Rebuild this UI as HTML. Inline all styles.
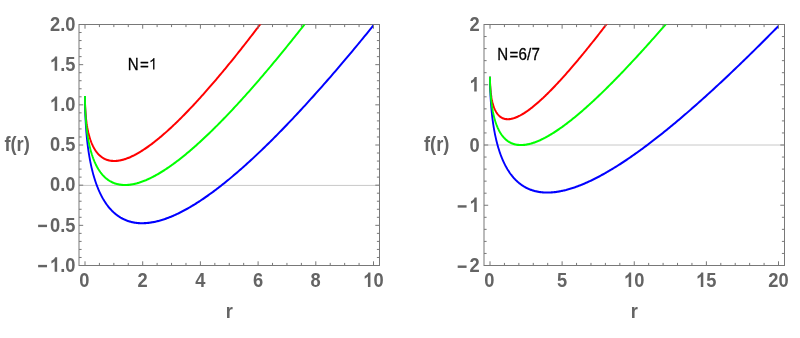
<!DOCTYPE html>
<html><head><meta charset="utf-8"><title>f(r) plots</title>
<style>html,body{margin:0;padding:0;background:#fff;}body{width:800px;height:338px;overflow:hidden;font-family:"Liberation Sans",sans-serif;}svg{display:block;will-change:transform;opacity:0.999}</style>
</head><body>
<svg width="800" height="338" viewBox="0 0 800 338">
<rect width="800" height="338" fill="#fff"/>
<line x1="79.0" y1="185.42" x2="379.5" y2="185.42" stroke="#c8c8c8" stroke-width="1"/>
<rect x="79.0" y="24.5" width="300.5" height="241.0" fill="none" stroke="#787878" stroke-width="1"/>
<clipPath id="c79"><rect x="79.0" y="24.5" width="300.5" height="241.0"/></clipPath>
<g clip-path="url(#c79)"><g transform="scale(1 1.15)" fill="none" stroke-width="1.85" stroke-linejoin="round" stroke-linecap="butt">
<path d="M85.00 83.41L85.00 83.60L85.00 83.88L85.00 84.19L85.00 84.53L85.01 84.89L85.01 85.26L85.01 85.65L85.02 86.06L85.02 86.47L85.03 86.90L85.04 87.33L85.05 87.77L85.06 88.22L85.07 88.68L85.08 89.14L85.09 89.61L85.11 90.08L85.12 90.56L85.14 91.04L85.16 91.53L85.18 92.02L85.21 92.51L85.23 93.01L85.26 93.50L85.28 94.01L85.31 94.51L85.34 95.01L85.38 95.52L85.41 96.03L85.45 96.54L85.49 97.05L85.53 97.57L85.57 98.08L85.61 98.60L85.66 99.11L85.71 99.63L85.76 100.14L85.81 100.66L85.86 101.17L85.92 101.69L85.98 102.21L86.04 102.72L86.10 103.24L86.17 103.75L86.23 104.26L86.30 104.78L86.37 105.29L86.45 105.80L86.52 106.31L86.60 106.82L86.69 107.32L86.77 107.83L86.86 108.33L86.94 108.83L87.04 109.33L87.13 109.83L87.23 110.33L87.32 110.83L87.43 111.32L87.53 111.81L87.64 112.30L87.75 112.78L87.86 113.27L87.97 113.75L88.09 114.23L88.21 114.70L88.33 115.18L88.46 115.65L88.59 116.12L88.72 116.58L88.85 117.04L88.99 117.50L89.13 117.96L89.27 118.41L89.42 118.86L89.57 119.31L89.72 119.75L89.87 120.19L90.03 120.63L90.19 121.06L90.36 121.49L90.52 121.92L90.69 122.34L90.87 122.76L91.04 123.17L91.22 123.58L91.40 123.99L91.59 124.39L91.78 124.79L91.97 125.19L92.17 125.58L92.37 125.96L92.57 126.35L92.77 126.72L92.98 127.10L93.19 127.47L93.41 127.83L93.63 128.19L93.85 128.55L94.07 128.90L94.30 129.25L94.53 129.59L94.77 129.93L95.01 130.26L95.25 130.59L95.49 130.91L95.74 131.23L96.00 131.54L96.25 131.85L96.51 132.15L96.78 132.45L97.04 132.74L97.31 133.03L97.59 133.31L97.87 133.59L98.15 133.86L98.43 134.13L98.72 134.39L99.01 134.64L99.31 134.90L99.61 135.14L99.91 135.38L100.22 135.61L100.53 135.84L100.85 136.06L101.17 136.28L101.49 136.49L101.82 136.70L102.15 136.90L102.48 137.09L102.82 137.28L103.16 137.46L103.51 137.63L103.86 137.80L104.21 137.97L104.57 138.13L104.93 138.28L105.30 138.42L105.67 138.56L106.04 138.69L106.42 138.82L106.80 138.94L107.18 139.06L107.57 139.16L107.97 139.26L108.37 139.36L108.77 139.45L109.18 139.53L109.59 139.60L110.00 139.67L110.42 139.73L110.84 139.79L111.27 139.84L111.70 139.88L112.14 139.92L112.58 139.94L113.02 139.97L113.47 139.98L113.92 139.99L114.38 139.99L114.84 139.98L115.30 139.97L115.77 139.95L116.25 139.92L116.73 139.89L117.21 139.85L117.70 139.80L118.19 139.74L118.68 139.68L119.19 139.61L119.69 139.53L120.20 139.45L120.71 139.36L121.23 139.26L121.75 139.15L122.28 139.04L122.81 138.92L123.35 138.79L123.89 138.65L124.44 138.51L124.99 138.36L125.54 138.20L126.10 138.03L126.66 137.85L127.23 137.67L127.81 137.48L128.38 137.29L128.97 137.08L129.55 136.87L130.14 136.65L130.74 136.42L131.34 136.18L131.95 135.93L132.56 135.68L133.17 135.42L133.79 135.15L134.42 134.88L135.05 134.59L135.68 134.30L136.32 134.00L136.96 133.69L137.61 133.37L138.27 133.04L138.92 132.71L139.59 132.37L140.26 132.02L140.93 131.66L141.61 131.29L142.29 130.92L142.98 130.53L143.67 130.14L144.37 129.74L145.07 129.33L145.78 128.91L146.49 128.49L147.21 128.05L147.93 127.61L148.66 127.16L149.39 126.70L150.13 126.23L150.87 125.75L151.62 125.26L152.37 124.77L153.13 124.26L153.89 123.75L154.66 123.23L155.43 122.70L156.21 122.16L156.99 121.61L157.78 121.06L158.58 120.49L159.38 119.91L160.18 119.33L160.99 118.74L161.80 118.13L162.62 117.52L163.45 116.90L164.28 116.27L165.11 115.64L165.95 114.99L166.80 114.33L167.65 113.67L168.51 112.99L169.37 112.31L170.24 111.61L171.11 110.91L171.99 110.20L172.87 109.47L173.76 108.74L174.65 108.00L175.55 107.25L176.46 106.49L177.37 105.72L178.28 104.95L179.20 104.16L180.13 103.36L181.06 102.55L182.00 101.74L182.94 100.91L183.89 100.07L184.84 99.23L185.80 98.37L186.77 97.51L187.74 96.63L188.71 95.75L189.69 94.85L190.68 93.95L191.67 93.04L192.67 92.11L193.67 91.18L194.68 90.23L195.70 89.28L196.72 88.32L197.74 87.34L198.77 86.36L199.81 85.37L200.85 84.36L201.90 83.35L202.96 82.33L204.02 81.29L205.08 80.25L206.15 79.20L207.23 78.13L208.31 77.06L209.40 75.97L210.50 74.88L211.60 73.77L212.70 72.66L213.81 71.53L214.93 70.40L216.05 69.25L217.18 68.10L218.32 66.93L219.46 65.75L220.60 64.56L221.75 63.37L222.91 62.16L224.08 60.94L225.25 59.71L226.42 58.47L227.60 57.22L228.79 55.96L229.98 54.69L231.18 53.40L232.39 52.11L233.60 50.81L234.82 49.49L236.04 48.17L237.27 46.83L238.50 45.48L239.74 44.13L240.99 42.76L242.24 41.38L243.50 39.99L244.77 38.59L246.04 37.18L247.32 35.76L248.60 34.32L249.89 32.88L251.18 31.42L252.49 29.96L253.79 28.48L255.11 26.99L256.43 25.49L257.75 23.98L259.08 22.46L260.42 20.93L261.77 19.39L263.12 17.83L264.47 16.27L265.84 14.69" stroke="#ff0000"/>
<path d="M85.00 83.41L85.00 83.68L85.00 84.07L85.00 84.50L85.00 84.98L85.01 85.48L85.01 86.01L85.01 86.56L85.02 87.13L85.02 87.71L85.03 88.31L85.04 88.92L85.05 89.55L85.06 90.18L85.07 90.83L85.08 91.49L85.09 92.15L85.11 92.83L85.12 93.51L85.14 94.20L85.16 94.89L85.18 95.59L85.21 96.30L85.23 97.01L85.26 97.73L85.28 98.45L85.31 99.18L85.34 99.91L85.38 100.64L85.41 101.38L85.45 102.13L85.49 102.87L85.53 103.62L85.57 104.37L85.61 105.12L85.66 105.88L85.71 106.64L85.76 107.40L85.81 108.16L85.86 108.92L85.92 109.69L85.98 110.46L86.04 111.22L86.10 111.99L86.17 112.76L86.23 113.53L86.30 114.30L86.37 115.07L86.45 115.85L86.52 116.62L86.60 117.39L86.69 118.16L86.77 118.93L86.86 119.70L86.94 120.48L87.04 121.25L87.13 122.02L87.23 122.79L87.32 123.55L87.43 124.32L87.53 125.09L87.64 125.86L87.75 126.62L87.86 127.38L87.97 128.15L88.09 128.91L88.21 129.66L88.33 130.42L88.46 131.18L88.59 131.93L88.72 132.68L88.85 133.44L88.99 134.18L89.13 134.93L89.27 135.67L89.42 136.42L89.57 137.16L89.72 137.89L89.87 138.63L90.03 139.36L90.19 140.09L90.36 140.82L90.52 141.54L90.69 142.26L90.87 142.98L91.04 143.70L91.22 144.41L91.40 145.12L91.59 145.83L91.78 146.53L91.97 147.23L92.17 147.93L92.37 148.62L92.57 149.31L92.77 150.00L92.98 150.69L93.19 151.37L93.41 152.04L93.63 152.71L93.85 153.38L94.07 154.05L94.30 154.71L94.53 155.37L94.77 156.02L95.01 156.67L95.25 157.32L95.49 157.96L95.74 158.60L96.00 159.23L96.25 159.86L96.51 160.48L96.78 161.10L97.04 161.72L97.31 162.33L97.59 162.94L97.87 163.54L98.15 164.14L98.43 164.73L98.72 165.32L99.01 165.90L99.31 166.48L99.61 167.06L99.91 167.62L100.22 168.19L100.53 168.75L100.85 169.30L101.17 169.85L101.49 170.40L101.82 170.94L102.15 171.47L102.48 172.00L102.82 172.52L103.16 173.04L103.51 173.55L103.86 174.06L104.21 174.56L104.57 175.06L104.93 175.55L105.30 176.04L105.67 176.52L106.04 176.99L106.42 177.46L106.80 177.92L107.18 178.38L107.57 178.83L107.97 179.28L108.37 179.72L108.77 180.15L109.18 180.58L109.59 181.00L110.00 181.42L110.42 181.83L110.84 182.23L111.27 182.63L111.70 183.02L112.14 183.41L112.58 183.79L113.02 184.16L113.47 184.53L113.92 184.89L114.38 185.24L114.84 185.59L115.30 185.93L115.77 186.27L116.25 186.60L116.73 186.92L117.21 187.23L117.70 187.54L118.19 187.85L118.68 188.14L119.19 188.43L119.69 188.71L120.20 188.99L120.71 189.26L121.23 189.52L121.75 189.77L122.28 190.02L122.81 190.26L123.35 190.49L123.89 190.72L124.44 190.94L124.99 191.15L125.54 191.36L126.10 191.56L126.66 191.75L127.23 191.93L127.81 192.11L128.38 192.28L128.97 192.44L129.55 192.60L130.14 192.74L130.74 192.88L131.34 193.02L131.95 193.14L132.56 193.26L133.17 193.37L133.79 193.47L134.42 193.57L135.05 193.66L135.68 193.74L136.32 193.81L136.96 193.88L137.61 193.93L138.27 193.98L138.92 194.02L139.59 194.06L140.26 194.08L140.93 194.10L141.61 194.11L142.29 194.11L142.98 194.11L143.67 194.10L144.37 194.07L145.07 194.04L145.78 194.01L146.49 193.96L147.21 193.91L147.93 193.85L148.66 193.78L149.39 193.70L150.13 193.61L150.87 193.52L151.62 193.41L152.37 193.30L153.13 193.18L153.89 193.05L154.66 192.92L155.43 192.77L156.21 192.62L156.99 192.46L157.78 192.29L158.58 192.11L159.38 191.92L160.18 191.73L160.99 191.52L161.80 191.31L162.62 191.09L163.45 190.86L164.28 190.62L165.11 190.37L165.95 190.11L166.80 189.85L167.65 189.57L168.51 189.29L169.37 189.00L170.24 188.70L171.11 188.39L171.99 188.07L172.87 187.74L173.76 187.40L174.65 187.06L175.55 186.70L176.46 186.34L177.37 185.97L178.28 185.59L179.20 185.20L180.13 184.80L181.06 184.39L182.00 183.97L182.94 183.54L183.89 183.10L184.84 182.66L185.80 182.20L186.77 181.74L187.74 181.26L188.71 180.78L189.69 180.29L190.68 179.78L191.67 179.27L192.67 178.75L193.67 178.22L194.68 177.68L195.70 177.13L196.72 176.57L197.74 176.00L198.77 175.42L199.81 174.83L200.85 174.24L201.90 173.63L202.96 173.01L204.02 172.38L205.08 171.75L206.15 171.10L207.23 170.44L208.31 169.78L209.40 169.10L210.50 168.41L211.60 167.72L212.70 167.01L213.81 166.30L214.93 165.57L216.05 164.84L217.18 164.09L218.32 163.33L219.46 162.57L220.60 161.79L221.75 161.01L222.91 160.21L224.08 159.40L225.25 158.59L226.42 157.76L227.60 156.93L228.79 156.08L229.98 155.22L231.18 154.35L232.39 153.48L233.60 152.59L234.82 151.69L236.04 150.78L237.27 149.86L238.50 148.93L239.74 147.99L240.99 147.04L242.24 146.08L243.50 145.11L244.77 144.13L246.04 143.14L247.32 142.13L248.60 141.12L249.89 140.09L251.18 139.06L252.49 138.01L253.79 136.96L255.11 135.89L256.43 134.81L257.75 133.73L259.08 132.63L260.42 131.52L261.77 130.40L263.12 129.27L264.47 128.12L265.84 126.97L267.20 125.81L268.58 124.63L269.96 123.45L271.35 122.25L272.74 121.04L274.14 119.82L275.55 118.60L276.96 117.36L278.38 116.10L279.80 114.84L281.24 113.57L282.67 112.28L284.12 110.99L285.57 109.68L287.02 108.36L288.49 107.03L289.96 105.69L291.43 104.34L292.91 102.98L294.40 101.60L295.90 100.22L297.40 98.82L298.91 97.41L300.42 95.99L301.94 94.56L303.47 93.12L305.00 91.67L306.54 90.20L308.08 88.73L309.64 87.24L311.20 85.74L312.76 84.23L314.33 82.71L315.91 81.17L317.50 79.63L319.09 78.07L320.69 76.50L322.29 74.92L323.90 73.33L325.52 71.73L327.14 70.11L328.77 68.49L330.41 66.85L332.05 65.20L333.70 63.54L335.36 61.86L337.02 60.18L338.69 58.48L340.37 56.77L342.05 55.05L343.75 53.32L345.44 51.58L347.15 49.82L348.86 48.05L350.57 46.27L352.30 44.48L354.03 42.67L355.76 40.86L357.51 39.03L359.26 37.19L361.01 35.34L362.78 33.47L364.55 31.60L366.32 29.71L368.11 27.81L369.90 25.90L371.70 23.97L373.50 22.03" stroke="#0000ff"/>
<path d="M85.00 83.41L85.00 83.64L85.00 83.96L85.00 84.32L85.00 84.72L85.01 85.14L85.01 85.58L85.01 86.04L85.02 86.51L85.02 87.00L85.03 87.50L85.04 88.01L85.05 88.53L85.06 89.06L85.07 89.60L85.08 90.14L85.09 90.69L85.11 91.25L85.12 91.82L85.14 92.39L85.16 92.96L85.18 93.54L85.21 94.13L85.23 94.71L85.26 95.31L85.28 95.90L85.31 96.50L85.34 97.10L85.38 97.71L85.41 98.32L85.45 98.92L85.49 99.54L85.53 100.15L85.57 100.77L85.61 101.38L85.66 102.00L85.71 102.62L85.76 103.24L85.81 103.86L85.86 104.48L85.92 105.10L85.98 105.73L86.04 106.35L86.10 106.97L86.17 107.60L86.23 108.22L86.30 108.84L86.37 109.46L86.45 110.09L86.52 110.71L86.60 111.33L86.69 111.95L86.77 112.57L86.86 113.19L86.94 113.80L87.04 114.42L87.13 115.03L87.23 115.65L87.32 116.26L87.43 116.87L87.53 117.48L87.64 118.08L87.75 118.69L87.86 119.29L87.97 119.89L88.09 120.49L88.21 121.09L88.33 121.68L88.46 122.28L88.59 122.87L88.72 123.45L88.85 124.04L88.99 124.62L89.13 125.20L89.27 125.78L89.42 126.35L89.57 126.93L89.72 127.50L89.87 128.06L90.03 128.62L90.19 129.18L90.36 129.74L90.52 130.29L90.69 130.84L90.87 131.39L91.04 131.93L91.22 132.47L91.40 133.01L91.59 133.54L91.78 134.07L91.97 134.60L92.17 135.12L92.37 135.64L92.57 136.15L92.77 136.66L92.98 137.16L93.19 137.67L93.41 138.16L93.63 138.66L93.85 139.15L94.07 139.63L94.30 140.11L94.53 140.59L94.77 141.06L95.01 141.53L95.25 141.99L95.49 142.45L95.74 142.91L96.00 143.36L96.25 143.80L96.51 144.24L96.78 144.68L97.04 145.11L97.31 145.53L97.59 145.96L97.87 146.37L98.15 146.78L98.43 147.19L98.72 147.59L99.01 147.99L99.31 148.38L99.61 148.76L99.91 149.14L100.22 149.52L100.53 149.89L100.85 150.25L101.17 150.61L101.49 150.96L101.82 151.31L102.15 151.65L102.48 151.99L102.82 152.32L103.16 152.65L103.51 152.96L103.86 153.28L104.21 153.59L104.57 153.89L104.93 154.19L105.30 154.48L105.67 154.76L106.04 155.04L106.42 155.31L106.80 155.58L107.18 155.84L107.57 156.09L107.97 156.34L108.37 156.58L108.77 156.82L109.18 157.05L109.59 157.27L110.00 157.49L110.42 157.70L110.84 157.91L111.27 158.10L111.70 158.29L112.14 158.48L112.58 158.66L113.02 158.83L113.47 158.99L113.92 159.15L114.38 159.30L114.84 159.45L115.30 159.59L115.77 159.72L116.25 159.84L116.73 159.96L117.21 160.07L117.70 160.18L118.19 160.27L118.68 160.36L119.19 160.45L119.69 160.52L120.20 160.59L120.71 160.65L121.23 160.71L121.75 160.76L122.28 160.80L122.81 160.83L123.35 160.86L123.89 160.87L124.44 160.89L124.99 160.89L125.54 160.89L126.10 160.87L126.66 160.86L127.23 160.83L127.81 160.80L128.38 160.76L128.97 160.71L129.55 160.65L130.14 160.59L130.74 160.52L131.34 160.44L131.95 160.35L132.56 160.26L133.17 160.15L133.79 160.04L134.42 159.93L135.05 159.80L135.68 159.67L136.32 159.52L136.96 159.38L137.61 159.22L138.27 159.05L138.92 158.88L139.59 158.70L140.26 158.51L140.93 158.31L141.61 158.10L142.29 157.89L142.98 157.67L143.67 157.44L144.37 157.20L145.07 156.95L145.78 156.70L146.49 156.43L147.21 156.16L147.93 155.88L148.66 155.59L149.39 155.29L150.13 154.99L150.87 154.67L151.62 154.35L152.37 154.02L153.13 153.68L153.89 153.33L154.66 152.97L155.43 152.61L156.21 152.23L156.99 151.85L157.78 151.46L158.58 151.06L159.38 150.65L160.18 150.23L160.99 149.80L161.80 149.36L162.62 148.92L163.45 148.47L164.28 148.00L165.11 147.53L165.95 147.05L166.80 146.56L167.65 146.06L168.51 145.55L169.37 145.04L170.24 144.51L171.11 143.98L171.99 143.43L172.87 142.88L173.76 142.32L174.65 141.74L175.55 141.16L176.46 140.57L177.37 139.97L178.28 139.36L179.20 138.74L180.13 138.12L181.06 137.48L182.00 136.83L182.94 136.18L183.89 135.51L184.84 134.83L185.80 134.15L186.77 133.46L187.74 132.75L188.71 132.04L189.69 131.32L190.68 130.58L191.67 129.84L192.67 129.09L193.67 128.33L194.68 127.56L195.70 126.77L196.72 125.98L197.74 125.18L198.77 124.37L199.81 123.55L200.85 122.72L201.90 121.88L202.96 121.03L204.02 120.17L205.08 119.30L206.15 118.42L207.23 117.53L208.31 116.63L209.40 115.72L210.50 114.80L211.60 113.87L212.70 112.93L213.81 111.98L214.93 111.02L216.05 110.05L217.18 109.07L218.32 108.07L219.46 107.07L220.60 106.06L221.75 105.04L222.91 104.01L224.08 102.96L225.25 101.91L226.42 100.85L227.60 99.77L228.79 98.69L229.98 97.59L231.18 96.49L232.39 95.37L233.60 94.25L234.82 93.11L236.04 91.96L237.27 90.80L238.50 89.64L239.74 88.46L240.99 87.27L242.24 86.07L243.50 84.85L244.77 83.63L246.04 82.40L247.32 81.16L248.60 79.90L249.89 78.64L251.18 77.36L252.49 76.08L253.79 74.78L255.11 73.47L256.43 72.15L257.75 70.82L259.08 69.48L260.42 68.13L261.77 66.77L263.12 65.39L264.47 64.01L265.84 62.61L267.20 61.20L268.58 59.79L269.96 58.36L271.35 56.92L272.74 55.47L274.14 54.00L275.55 52.53L276.96 51.05L278.38 49.55L279.80 48.04L281.24 46.52L282.67 44.99L284.12 43.45L285.57 41.90L287.02 40.34L288.49 38.76L289.96 37.17L291.43 35.58L292.91 33.97L294.40 32.35L295.90 30.72L297.40 29.07L298.91 27.42L300.42 25.75L301.94 24.07L303.47 22.38L305.00 20.68L306.54 18.97L308.08 17.24L309.64 15.51" stroke="#00ff00"/>
</g></g>
<path d="M85.00 24.5v4.2M85.00 265.5v-4.2M99.42 24.5v2.6M99.42 265.5v-2.6M113.85 24.5v2.6M113.85 265.5v-2.6M128.28 24.5v2.6M128.28 265.5v-2.6M142.70 24.5v4.2M142.70 265.5v-4.2M157.12 24.5v2.6M157.12 265.5v-2.6M171.55 24.5v2.6M171.55 265.5v-2.6M185.98 24.5v2.6M185.98 265.5v-2.6M200.40 24.5v4.2M200.40 265.5v-4.2M214.83 24.5v2.6M214.83 265.5v-2.6M229.25 24.5v2.6M229.25 265.5v-2.6M243.68 24.5v2.6M243.68 265.5v-2.6M258.10 24.5v4.2M258.10 265.5v-4.2M272.52 24.5v2.6M272.52 265.5v-2.6M286.95 24.5v2.6M286.95 265.5v-2.6M301.38 24.5v2.6M301.38 265.5v-2.6M315.80 24.5v4.2M315.80 265.5v-4.2M330.23 24.5v2.6M330.23 265.5v-2.6M344.65 24.5v2.6M344.65 265.5v-2.6M359.07 24.5v2.6M359.07 265.5v-2.6M373.50 24.5v4.2M373.50 265.5v-4.2M79.0 265.50h4.2M379.5 265.50h-4.2M79.0 257.47h2.6M379.5 257.47h-2.6M79.0 249.43h2.6M379.5 249.43h-2.6M79.0 241.40h2.6M379.5 241.40h-2.6M79.0 233.37h2.6M379.5 233.37h-2.6M79.0 225.33h4.2M379.5 225.33h-4.2M79.0 217.30h2.6M379.5 217.30h-2.6M79.0 209.27h2.6M379.5 209.27h-2.6M79.0 201.23h2.6M379.5 201.23h-2.6M79.0 193.20h2.6M379.5 193.20h-2.6M79.0 185.17h4.2M379.5 185.17h-4.2M79.0 177.13h2.6M379.5 177.13h-2.6M79.0 169.10h2.6M379.5 169.10h-2.6M79.0 161.07h2.6M379.5 161.07h-2.6M79.0 153.03h2.6M379.5 153.03h-2.6M79.0 145.00h4.2M379.5 145.00h-4.2M79.0 136.97h2.6M379.5 136.97h-2.6M79.0 128.93h2.6M379.5 128.93h-2.6M79.0 120.90h2.6M379.5 120.90h-2.6M79.0 112.87h2.6M379.5 112.87h-2.6M79.0 104.83h4.2M379.5 104.83h-4.2M79.0 96.80h2.6M379.5 96.80h-2.6M79.0 88.77h2.6M379.5 88.77h-2.6M79.0 80.73h2.6M379.5 80.73h-2.6M79.0 72.70h2.6M379.5 72.70h-2.6M79.0 64.67h4.2M379.5 64.67h-4.2M79.0 56.63h2.6M379.5 56.63h-2.6M79.0 48.60h2.6M379.5 48.60h-2.6M79.0 40.57h2.6M379.5 40.57h-2.6M79.0 32.53h2.6M379.5 32.53h-2.6M79.0 24.50h4.2M379.5 24.50h-4.2" stroke="#787878" stroke-width="1" fill="none"/>
<g font-family="Liberation Sans, sans-serif" font-weight="bold" font-size="18.3" fill="#646464">
<g transform="translate(79.31 287.00) scale(1 1.1)"><text x="0.00" y="0">0</text></g>
<g transform="translate(137.51 287.00) scale(1 1.1)"><text x="0.00" y="0">2</text></g>
<g transform="translate(195.21 287.00) scale(1 1.1)"><text x="0.00" y="0">4</text></g>
<g transform="translate(252.91 287.00) scale(1 1.1)"><text x="0.00" y="0">6</text></g>
<g transform="translate(310.61 287.00) scale(1 1.1)"><text x="0.00" y="0">8</text></g>
<g transform="translate(363.23 287.00) scale(1 1.1)"><path transform="translate(0.00 0) scale(0.00894 -0.00894)" d="M806 0H525V1059Q371 915 162 846V1101Q272 1137 401 1237.5Q530 1338 578 1472H806V0Z"/><text x="10.17" y="0">0</text></g>
<g transform="translate(37.52 271.70) scale(1 1.1)"><rect x="0.60" y="-6.2" width="8.9" height="2.2"/><path transform="translate(12.44 0) scale(0.00894 -0.00894)" d="M806 0H525V1059Q371 915 162 846V1101Q272 1137 401 1237.5Q530 1338 578 1472H806V0Z"/><text x="22.62 27.71" y="0">.0</text></g>
<g transform="translate(37.52 231.53) scale(1 1.1)"><rect x="0.60" y="-6.2" width="8.9" height="2.2"/><text x="12.44 22.62 27.71" y="0">0.5</text></g>
<g transform="translate(49.96 191.37) scale(1 1.1)"><text x="0.00 10.17 15.26" y="0">0.0</text></g>
<g transform="translate(49.96 151.20) scale(1 1.1)"><text x="0.00 10.17 15.26" y="0">0.5</text></g>
<g transform="translate(49.96 111.03) scale(1 1.1)"><path transform="translate(0.00 0) scale(0.00894 -0.00894)" d="M806 0H525V1059Q371 915 162 846V1101Q272 1137 401 1237.5Q530 1338 578 1472H806V0Z"/><text x="10.17 15.26" y="0">.0</text></g>
<g transform="translate(49.96 70.87) scale(1 1.1)"><path transform="translate(0.00 0) scale(0.00894 -0.00894)" d="M806 0H525V1059Q371 915 162 846V1101Q272 1137 401 1237.5Q530 1338 578 1472H806V0Z"/><text x="10.17 15.26" y="0">.5</text></g>
<g transform="translate(49.96 30.70) scale(1 1.1)"><text x="0.00 10.17 15.26" y="0">2.0</text></g>
<g transform="translate(225.79 318.00) scale(1 1.1)"><text x="0.00" y="0">r</text></g>
<g transform="translate(4.40 151.40) scale(1 1.1)"><text x="0.00 6.09 12.19 19.31" y="0">f(r)</text></g>
</g>
<g font-family="Liberation Sans, sans-serif" font-size="15.1" fill="#000" stroke="#000" stroke-width="0.25"><g transform="translate(127.70 69.60) scale(1 1.075)"><text x="0.00 12.19" y="0">N=</text><path transform="translate(21.12 0) scale(0.00737 -0.00737)" d="M763 0H583V1147Q518 1085 412.5 1023Q307 961 223 930V1104Q374 1175 487 1276Q600 1377 647 1472H763V0Z"/></g></g>
<line x1="484.0" y1="145.00" x2="784.5" y2="145.00" stroke="#c8c8c8" stroke-width="1"/>
<rect x="484.0" y="24.5" width="300.5" height="241.0" fill="none" stroke="#787878" stroke-width="1"/>
<clipPath id="c484"><rect x="484.0" y="24.5" width="300.5" height="241.0"/></clipPath>
<g clip-path="url(#c484)"><g transform="scale(1 1.15)" fill="none" stroke-width="1.85" stroke-linejoin="round" stroke-linecap="butt">
<path d="M490.00 66.68L490.00 66.78L490.00 66.95L490.00 67.16L490.00 67.39L490.01 67.65L490.01 67.93L490.01 68.23L490.02 68.54L490.02 68.86L490.03 69.19L490.04 69.53L490.05 69.88L490.06 70.24L490.07 70.61L490.08 70.98L490.09 71.36L490.11 71.75L490.12 72.14L490.14 72.53L490.16 72.93L490.18 73.33L490.21 73.74L490.23 74.14L490.26 74.55L490.28 74.96L490.31 75.38L490.34 75.79L490.38 76.21L490.41 76.63L490.45 77.05L490.49 77.47L490.53 77.89L490.57 78.31L490.61 78.73L490.66 79.15L490.71 79.57L490.76 79.98L490.81 80.40L490.86 80.82L490.92 81.24L490.98 81.65L491.04 82.07L491.10 82.48L491.17 82.89L491.23 83.30L491.30 83.71L491.37 84.11L491.45 84.52L491.52 84.92L491.60 85.32L491.69 85.72L491.77 86.11L491.86 86.50L491.94 86.89L492.04 87.28L492.13 87.66L492.23 88.05L492.32 88.42L492.43 88.80L492.53 89.17L492.64 89.54L492.75 89.90L492.86 90.27L492.97 90.62L493.09 90.98L493.21 91.33L493.33 91.68L493.46 92.02L493.59 92.36L493.72 92.70L493.85 93.03L493.99 93.36L494.13 93.68L494.27 94.00L494.42 94.31L494.57 94.63L494.72 94.93L494.87 95.23L495.03 95.53L495.19 95.82L495.36 96.11L495.52 96.40L495.69 96.68L495.87 96.95L496.04 97.22L496.22 97.48L496.40 97.74L496.59 98.00L496.78 98.25L496.97 98.49L497.17 98.73L497.37 98.97L497.57 99.20L497.77 99.42L497.98 99.64L498.19 99.85L498.41 100.06L498.63 100.26L498.85 100.46L499.07 100.65L499.30 100.84L499.53 101.02L499.77 101.19L500.01 101.36L500.25 101.53L500.49 101.68L500.74 101.84L501.00 101.98L501.25 102.12L501.51 102.26L501.78 102.39L502.04 102.51L502.31 102.63L502.59 102.74L502.87 102.84L503.15 102.94L503.43 103.03L503.72 103.12L504.01 103.20L504.31 103.27L504.61 103.34L504.91 103.40L505.22 103.45L505.53 103.50L505.85 103.54L506.17 103.58L506.49 103.61L506.82 103.63L507.15 103.65L507.48 103.66L507.82 103.66L508.16 103.66L508.51 103.65L508.86 103.63L509.21 103.60L509.57 103.57L509.93 103.54L510.30 103.49L510.67 103.44L511.04 103.39L511.42 103.32L511.80 103.25L512.18 103.17L512.57 103.09L512.97 102.99L513.37 102.90L513.77 102.79L514.18 102.68L514.59 102.56L515.00 102.43L515.42 102.29L515.84 102.15L516.27 102.00L516.70 101.85L517.14 101.69L517.58 101.52L518.02 101.34L518.47 101.15L518.92 100.96L519.38 100.76L519.84 100.56L520.30 100.34L520.77 100.12L521.25 99.89L521.73 99.65L522.21 99.41L522.70 99.16L523.19 98.90L523.68 98.64L524.19 98.36L524.69 98.08L525.20 97.79L525.71 97.50L526.23 97.19L526.75 96.88L527.28 96.56L527.81 96.23L528.35 95.90L528.89 95.56L529.44 95.21L529.99 94.85L530.54 94.48L531.10 94.11L531.66 93.73L532.23 93.34L532.81 92.94L533.38 92.54L533.97 92.12L534.55 91.70L535.14 91.28L535.74 90.84L536.34 90.39L536.95 89.94L537.56 89.48L538.17 89.01L538.79 88.54L539.42 88.05L540.05 87.56L540.68 87.06L541.32 86.55L541.96 86.03L542.61 85.51L543.27 84.98L543.92 84.43L544.59 83.88L545.26 83.33L545.93 82.76L546.61 82.19L547.29 81.61L547.98 81.01L548.67 80.42L549.37 79.81L550.07 79.19L550.78 78.57L551.49 77.94L552.21 77.30L552.93 76.65L553.66 75.99L554.39 75.32L555.13 74.65L555.87 73.97L556.62 73.28L557.37 72.58L558.13 71.87L558.89 71.15L559.66 70.43L560.43 69.70L561.21 68.95L561.99 68.20L562.78 67.44L563.58 66.68L564.38 65.90L565.18 65.12L565.99 64.32L566.80 63.52L567.62 62.71L568.45 61.89L569.28 61.06L570.11 60.23L570.95 59.38L571.80 58.53L572.65 57.66L573.51 56.79L574.37 55.91L575.24 55.02L576.11 54.12L576.99 53.22L577.87 52.30L578.76 51.38L579.65 50.44L580.55 49.50L581.46 48.55L582.37 47.59L583.28 46.62L584.20 45.64L585.13 44.66L586.06 43.66L587.00 42.66L587.94 41.64L588.89 40.62L589.84 39.59L590.80 38.55L591.77 37.50L592.74 36.44L593.71 35.38L594.69 34.30L595.68 33.21L596.67 32.12L597.67 31.02L598.67 29.90L599.68 28.78L600.70 27.65L601.72 26.51L602.74 25.36L603.77 24.20L604.81 23.04L605.85 21.86L606.90 20.67L607.96 19.48L609.02 18.28L610.08 17.06L611.15 15.84" stroke="#ff0000"/>
<path d="M490.00 66.68L490.00 66.82L490.00 67.06L490.00 67.36L490.00 67.69L490.01 68.07L490.01 68.47L490.01 68.90L490.02 69.35L490.02 69.82L490.03 70.31L490.04 70.81L490.05 71.33L490.06 71.87L490.07 72.42L490.08 72.98L490.09 73.55L490.11 74.13L490.12 74.72L490.14 75.32L490.16 75.93L490.18 76.55L490.21 77.18L490.23 77.81L490.26 78.45L490.28 79.10L490.31 79.75L490.34 80.41L490.38 81.07L490.41 81.74L490.45 82.41L490.49 83.09L490.53 83.77L490.57 84.45L490.61 85.14L490.66 85.83L490.71 86.52L490.76 87.22L490.81 87.92L490.86 88.62L490.92 89.33L490.98 90.03L491.04 90.74L491.10 91.45L491.17 92.16L491.23 92.87L491.30 93.58L491.37 94.30L491.45 95.01L491.52 95.73L491.60 96.44L491.69 97.16L491.77 97.88L491.86 98.59L491.94 99.31L492.04 100.03L492.13 100.74L492.23 101.46L492.32 102.18L492.43 102.89L492.53 103.60L492.64 104.32L492.75 105.03L492.86 105.74L492.97 106.45L493.09 107.16L493.21 107.87L493.33 108.58L493.46 109.28L493.59 109.98L493.72 110.69L493.85 111.39L493.99 112.09L494.13 112.78L494.27 113.48L494.42 114.17L494.57 114.86L494.72 115.55L494.87 116.23L495.03 116.91L495.19 117.60L495.36 118.27L495.52 118.95L495.69 119.62L495.87 120.29L496.04 120.96L496.22 121.63L496.40 122.29L496.59 122.95L496.78 123.60L496.97 124.25L497.17 124.90L497.37 125.55L497.57 126.19L497.77 126.83L497.98 127.47L498.19 128.10L498.41 128.73L498.63 129.36L498.85 129.98L499.07 130.60L499.30 131.21L499.53 131.82L499.77 132.43L500.01 133.03L500.25 133.63L500.49 134.23L500.74 134.82L501.00 135.41L501.25 135.99L501.51 136.57L501.78 137.15L502.04 137.72L502.31 138.28L502.59 138.85L502.87 139.40L503.15 139.96L503.43 140.51L503.72 141.05L504.01 141.59L504.31 142.13L504.61 142.66L504.91 143.18L505.22 143.70L505.53 144.22L505.85 144.73L506.17 145.24L506.49 145.74L506.82 146.24L507.15 146.73L507.48 147.22L507.82 147.70L508.16 148.18L508.51 148.65L508.86 149.12L509.21 149.58L509.57 150.04L509.93 150.49L510.30 150.93L510.67 151.38L511.04 151.81L511.42 152.24L511.80 152.67L512.18 153.09L512.57 153.50L512.97 153.91L513.37 154.31L513.77 154.71L514.18 155.10L514.59 155.49L515.00 155.87L515.42 156.25L515.84 156.62L516.27 156.98L516.70 157.34L517.14 157.69L517.58 158.04L518.02 158.38L518.47 158.71L518.92 159.04L519.38 159.37L519.84 159.68L520.30 159.99L520.77 160.30L521.25 160.60L521.73 160.89L522.21 161.18L522.70 161.46L523.19 161.74L523.68 162.00L524.19 162.27L524.69 162.52L525.20 162.77L525.71 163.02L526.23 163.26L526.75 163.49L527.28 163.71L527.81 163.93L528.35 164.14L528.89 164.35L529.44 164.55L529.99 164.74L530.54 164.93L531.10 165.11L531.66 165.28L532.23 165.45L532.81 165.61L533.38 165.76L533.97 165.91L534.55 166.05L535.14 166.19L535.74 166.31L536.34 166.43L536.95 166.55L537.56 166.66L538.17 166.76L538.79 166.85L539.42 166.94L540.05 167.02L540.68 167.09L541.32 167.16L541.96 167.22L542.61 167.27L543.27 167.32L543.92 167.35L544.59 167.39L545.26 167.41L545.93 167.43L546.61 167.44L547.29 167.44L547.98 167.44L548.67 167.43L549.37 167.41L550.07 167.39L550.78 167.36L551.49 167.32L552.21 167.27L552.93 167.22L553.66 167.16L554.39 167.09L555.13 167.02L555.87 166.93L556.62 166.84L557.37 166.75L558.13 166.64L558.89 166.53L559.66 166.41L560.43 166.29L561.21 166.15L561.99 166.01L562.78 165.86L563.58 165.71L564.38 165.55L565.18 165.37L565.99 165.20L566.80 165.01L567.62 164.82L568.45 164.62L569.28 164.41L570.11 164.19L570.95 163.97L571.80 163.74L572.65 163.50L573.51 163.25L574.37 163.00L575.24 162.74L576.11 162.47L576.99 162.19L577.87 161.91L578.76 161.61L579.65 161.31L580.55 161.01L581.46 160.69L582.37 160.37L583.28 160.03L584.20 159.70L585.13 159.35L586.06 158.99L587.00 158.63L587.94 158.26L588.89 157.88L589.84 157.50L590.80 157.10L591.77 156.70L592.74 156.29L593.71 155.87L594.69 155.44L595.68 155.01L596.67 154.57L597.67 154.12L598.67 153.66L599.68 153.19L600.70 152.72L601.72 152.24L602.74 151.74L603.77 151.25L604.81 150.74L605.85 150.22L606.90 149.70L607.96 149.17L609.02 148.63L610.08 148.08L611.15 147.53L612.23 146.96L613.31 146.39L614.40 145.81L615.50 145.22L616.60 144.62L617.70 144.02L618.81 143.40L619.93 142.78L621.05 142.15L622.18 141.51L623.32 140.87L624.46 140.21L625.60 139.55L626.75 138.88L627.91 138.19L629.08 137.51L630.25 136.81L631.42 136.10L632.60 135.39L633.79 134.67L634.98 133.93L636.18 133.19L637.39 132.45L638.60 131.69L639.82 130.92L641.04 130.15L642.27 129.37L643.50 128.58L644.74 127.78L645.99 126.97L647.24 126.15L648.50 125.33L649.77 124.50L651.04 123.65L652.32 122.80L653.60 121.94L654.89 121.07L656.18 120.20L657.49 119.31L658.79 118.42L660.11 117.51L661.43 116.60L662.75 115.68L664.08 114.75L665.42 113.81L666.77 112.87L668.12 111.91L669.47 110.95L670.84 109.97L672.20 108.99L673.58 108.00L674.96 107.00L676.35 105.99L677.74 104.98L679.14 103.95L680.55 102.92L681.96 101.87L683.38 100.82L684.80 99.76L686.24 98.69L687.67 97.61L689.12 96.52L690.57 95.42L692.02 94.31L693.49 93.20L694.96 92.08L696.43 90.94L697.91 89.80L699.40 88.65L700.90 87.49L702.40 86.32L703.91 85.14L705.42 83.95L706.94 82.76L708.47 81.55L710.00 80.34L711.54 79.11L713.08 77.88L714.64 76.64L716.20 75.39L717.76 74.13L719.33 72.86L720.91 71.58L722.50 70.29L724.09 69.00L725.69 67.69L727.29 66.38L728.90 65.05L730.52 63.72L732.14 62.38L733.77 61.02L735.41 59.66L737.05 58.29L738.70 56.91L740.36 55.52L742.02 54.13L743.69 52.72L745.37 51.30L747.05 49.88L748.75 48.44L750.44 47.00L752.15 45.54L753.86 44.08L755.57 42.61L757.30 41.13L759.03 39.64L760.76 38.13L762.51 36.62L764.26 35.11L766.01 33.58L767.78 32.04L769.55 30.49L771.32 28.93L773.11 27.37L774.90 25.79L776.70 24.21L778.50 22.61" stroke="#0000ff"/>
<path d="M490.00 66.68L490.00 66.80L490.00 67.00L490.00 67.24L490.00 67.52L490.01 67.83L490.01 68.16L490.01 68.52L490.02 68.89L490.02 69.27L490.03 69.67L490.04 70.09L490.05 70.51L490.06 70.95L490.07 71.39L490.08 71.85L490.09 72.31L490.11 72.78L490.12 73.26L490.14 73.74L490.16 74.23L490.18 74.72L490.21 75.22L490.23 75.73L490.26 76.24L490.28 76.75L490.31 77.27L490.34 77.79L490.38 78.31L490.41 78.84L490.45 79.36L490.49 79.90L490.53 80.43L490.57 80.96L490.61 81.50L490.66 82.03L490.71 82.57L490.76 83.11L490.81 83.65L490.86 84.19L490.92 84.73L490.98 85.27L491.04 85.81L491.10 86.36L491.17 86.90L491.23 87.44L491.30 87.98L491.37 88.52L491.45 89.05L491.52 89.59L491.60 90.13L491.69 90.66L491.77 91.20L491.86 91.73L491.94 92.26L492.04 92.79L492.13 93.32L492.23 93.84L492.32 94.37L492.43 94.89L492.53 95.41L492.64 95.93L492.75 96.44L492.86 96.95L492.97 97.47L493.09 97.97L493.21 98.48L493.33 98.98L493.46 99.48L493.59 99.98L493.72 100.47L493.85 100.96L493.99 101.45L494.13 101.94L494.27 102.42L494.42 102.90L494.57 103.37L494.72 103.84L494.87 104.31L495.03 104.77L495.19 105.23L495.36 105.69L495.52 106.14L495.69 106.59L495.87 107.04L496.04 107.48L496.22 107.92L496.40 108.35L496.59 108.78L496.78 109.21L496.97 109.63L497.17 110.04L497.37 110.46L497.57 110.86L497.77 111.27L497.98 111.67L498.19 112.06L498.41 112.45L498.63 112.84L498.85 113.22L499.07 113.60L499.30 113.97L499.53 114.33L499.77 114.70L500.01 115.05L500.25 115.40L500.49 115.75L500.74 116.09L501.00 116.43L501.25 116.76L501.51 117.09L501.78 117.41L502.04 117.73L502.31 118.04L502.59 118.34L502.87 118.64L503.15 118.94L503.43 119.23L503.72 119.51L504.01 119.79L504.31 120.06L504.61 120.33L504.91 120.59L505.22 120.85L505.53 121.10L505.85 121.35L506.17 121.59L506.49 121.82L506.82 122.05L507.15 122.27L507.48 122.48L507.82 122.69L508.16 122.90L508.51 123.10L508.86 123.29L509.21 123.48L509.57 123.66L509.93 123.83L510.30 124.00L510.67 124.16L511.04 124.32L511.42 124.47L511.80 124.61L512.18 124.75L512.57 124.88L512.97 125.00L513.37 125.12L513.77 125.23L514.18 125.34L514.59 125.43L515.00 125.53L515.42 125.61L515.84 125.69L516.27 125.77L516.70 125.83L517.14 125.89L517.58 125.95L518.02 125.99L518.47 126.03L518.92 126.07L519.38 126.09L519.84 126.11L520.30 126.12L520.77 126.13L521.25 126.13L521.73 126.12L522.21 126.11L522.70 126.09L523.19 126.06L523.68 126.02L524.19 125.98L524.69 125.93L525.20 125.88L525.71 125.82L526.23 125.75L526.75 125.67L527.28 125.58L527.81 125.49L528.35 125.39L528.89 125.29L529.44 125.18L529.99 125.06L530.54 124.93L531.10 124.80L531.66 124.65L532.23 124.51L532.81 124.35L533.38 124.19L533.97 124.02L534.55 123.84L535.14 123.65L535.74 123.46L536.34 123.26L536.95 123.05L537.56 122.84L538.17 122.61L538.79 122.38L539.42 122.15L540.05 121.90L540.68 121.65L541.32 121.39L541.96 121.12L542.61 120.85L543.27 120.56L543.92 120.27L544.59 119.98L545.26 119.67L545.93 119.36L546.61 119.03L547.29 118.71L547.98 118.37L548.67 118.02L549.37 117.67L550.07 117.31L550.78 116.94L551.49 116.57L552.21 116.19L552.93 115.79L553.66 115.39L554.39 114.99L555.13 114.57L555.87 114.15L556.62 113.72L557.37 113.28L558.13 112.83L558.89 112.38L559.66 111.91L560.43 111.44L561.21 110.96L561.99 110.48L562.78 109.98L563.58 109.48L564.38 108.97L565.18 108.45L565.99 107.92L566.80 107.39L567.62 106.84L568.45 106.29L569.28 105.73L570.11 105.16L570.95 104.58L571.80 104.00L572.65 103.41L573.51 102.81L574.37 102.20L575.24 101.58L576.11 100.95L576.99 100.32L577.87 99.67L578.76 99.02L579.65 98.36L580.55 97.70L581.46 97.02L582.37 96.33L583.28 95.64L584.20 94.94L585.13 94.23L586.06 93.51L587.00 92.78L587.94 92.05L588.89 91.30L589.84 90.55L590.80 89.79L591.77 89.02L592.74 88.24L593.71 87.46L594.69 86.66L595.68 85.86L596.67 85.04L597.67 84.22L598.67 83.39L599.68 82.55L600.70 81.71L601.72 80.85L602.74 79.99L603.77 79.11L604.81 78.23L605.85 77.34L606.90 76.44L607.96 75.53L609.02 74.62L610.08 73.69L611.15 72.76L612.23 71.81L613.31 70.86L614.40 69.90L615.50 68.93L616.60 67.95L617.70 66.97L618.81 65.97L619.93 64.96L621.05 63.95L622.18 62.93L623.32 61.90L624.46 60.86L625.60 59.81L626.75 58.75L627.91 57.68L629.08 56.60L630.25 55.52L631.42 54.42L632.60 53.32L633.79 52.21L634.98 51.09L636.18 49.95L637.39 48.82L638.60 47.67L639.82 46.51L641.04 45.34L642.27 44.17L643.50 42.98L644.74 41.79L645.99 40.58L647.24 39.37L648.50 38.15L649.77 36.92L651.04 35.68L652.32 34.43L653.60 33.17L654.89 31.90L656.18 30.63L657.49 29.34L658.79 28.05L660.11 26.74L661.43 25.43L662.75 24.11L664.08 22.77L665.42 21.43L666.77 20.08L668.12 18.72L669.47 17.35L670.84 15.98" stroke="#00ff00"/>
</g></g>
<path d="M490.00 24.5v4.2M490.00 265.5v-4.2M504.43 24.5v2.6M504.43 265.5v-2.6M518.85 24.5v2.6M518.85 265.5v-2.6M533.27 24.5v2.6M533.27 265.5v-2.6M547.70 24.5v2.6M547.70 265.5v-2.6M562.12 24.5v4.2M562.12 265.5v-4.2M576.55 24.5v2.6M576.55 265.5v-2.6M590.98 24.5v2.6M590.98 265.5v-2.6M605.40 24.5v2.6M605.40 265.5v-2.6M619.83 24.5v2.6M619.83 265.5v-2.6M634.25 24.5v4.2M634.25 265.5v-4.2M648.67 24.5v2.6M648.67 265.5v-2.6M663.10 24.5v2.6M663.10 265.5v-2.6M677.52 24.5v2.6M677.52 265.5v-2.6M691.95 24.5v2.6M691.95 265.5v-2.6M706.38 24.5v4.2M706.38 265.5v-4.2M720.80 24.5v2.6M720.80 265.5v-2.6M735.23 24.5v2.6M735.23 265.5v-2.6M749.65 24.5v2.6M749.65 265.5v-2.6M764.08 24.5v2.6M764.08 265.5v-2.6M778.50 24.5v4.2M778.50 265.5v-4.2M484.0 265.50h4.2M784.5 265.50h-4.2M484.0 253.45h2.6M784.5 253.45h-2.6M484.0 241.40h2.6M784.5 241.40h-2.6M484.0 229.35h2.6M784.5 229.35h-2.6M484.0 217.30h2.6M784.5 217.30h-2.6M484.0 205.25h4.2M784.5 205.25h-4.2M484.0 193.20h2.6M784.5 193.20h-2.6M484.0 181.15h2.6M784.5 181.15h-2.6M484.0 169.10h2.6M784.5 169.10h-2.6M484.0 157.05h2.6M784.5 157.05h-2.6M484.0 145.00h4.2M784.5 145.00h-4.2M484.0 132.95h2.6M784.5 132.95h-2.6M484.0 120.90h2.6M784.5 120.90h-2.6M484.0 108.85h2.6M784.5 108.85h-2.6M484.0 96.80h2.6M784.5 96.80h-2.6M484.0 84.75h4.2M784.5 84.75h-4.2M484.0 72.70h2.6M784.5 72.70h-2.6M484.0 60.65h2.6M784.5 60.65h-2.6M484.0 48.60h2.6M784.5 48.60h-2.6M484.0 36.55h2.6M784.5 36.55h-2.6M484.0 24.50h4.2M784.5 24.50h-4.2" stroke="#787878" stroke-width="1" fill="none"/>
<g font-family="Liberation Sans, sans-serif" font-weight="bold" font-size="18.3" fill="#646464">
<g transform="translate(484.31 287.00) scale(1 1.1)"><text x="0.00" y="0">0</text></g>
<g transform="translate(556.94 287.00) scale(1 1.1)"><text x="0.00" y="0">5</text></g>
<g transform="translate(623.98 287.00) scale(1 1.1)"><path transform="translate(0.00 0) scale(0.00894 -0.00894)" d="M806 0H525V1059Q371 915 162 846V1101Q272 1137 401 1237.5Q530 1338 578 1472H806V0Z"/><text x="10.17" y="0">0</text></g>
<g transform="translate(696.10 287.00) scale(1 1.1)"><path transform="translate(0.00 0) scale(0.00894 -0.00894)" d="M806 0H525V1059Q371 915 162 846V1101Q272 1137 401 1237.5Q530 1338 578 1472H806V0Z"/><text x="10.17" y="0">5</text></g>
<g transform="translate(768.23 287.00) scale(1 1.1)"><text x="0.00 10.17" y="0">20</text></g>
<g transform="translate(457.08 272.30) scale(1 1.1)"><rect x="0.60" y="-6.2" width="8.9" height="2.2"/><text x="12.44" y="0">2</text></g>
<g transform="translate(457.08 212.05) scale(1 1.1)"><rect x="0.60" y="-6.2" width="8.9" height="2.2"/><path transform="translate(12.44 0) scale(0.00894 -0.00894)" d="M806 0H525V1059Q371 915 162 846V1101Q272 1137 401 1237.5Q530 1338 578 1472H806V0Z"/></g>
<g transform="translate(469.53 151.80) scale(1 1.1)"><text x="0.00" y="0">0</text></g>
<g transform="translate(469.53 91.55) scale(1 1.1)"><path transform="translate(0.00 0) scale(0.00894 -0.00894)" d="M806 0H525V1059Q371 915 162 846V1101Q272 1137 401 1237.5Q530 1338 578 1472H806V0Z"/></g>
<g transform="translate(469.53 31.30) scale(1 1.1)"><text x="0.00" y="0">2</text></g>
<g transform="translate(630.79 318.00) scale(1 1.1)"><text x="0.00" y="0">r</text></g>
<g transform="translate(424.00 151.40) scale(1 1.1)"><text x="0.00 6.09 12.19 19.31" y="0">f(r)</text></g>
</g>
<g font-family="Liberation Sans, sans-serif" font-size="15.1" fill="#000" stroke="#000" stroke-width="0.25"><g transform="translate(497.30 60.10) scale(1 1.075)"><text x="0.00 12.19 21.12 29.67 34.32" y="0">N=6/7</text></g></g>
</svg>
</body></html>
